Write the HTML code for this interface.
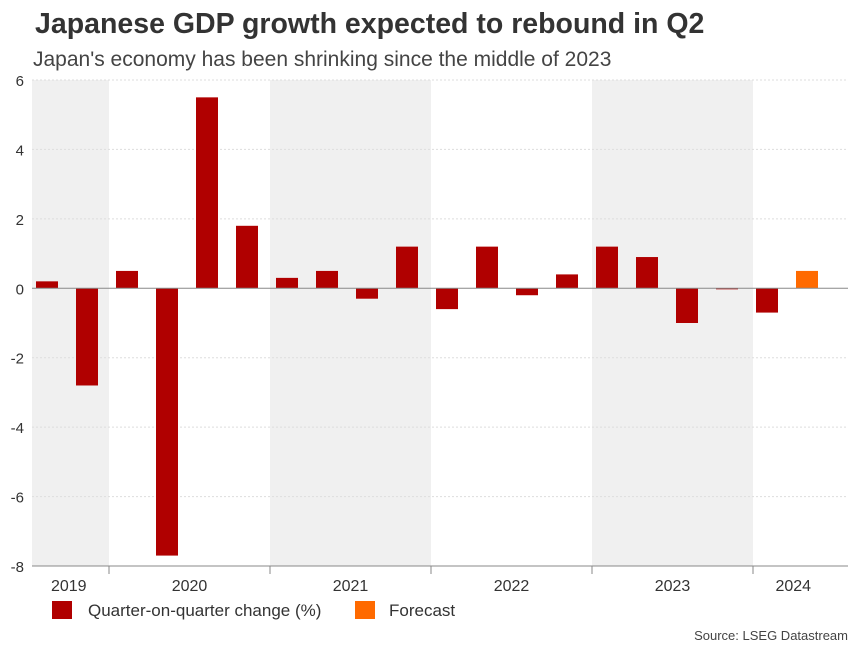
<!DOCTYPE html>
<html><head><meta charset="utf-8"><style>
body{margin:0;background:#fff;font-family:"Liberation Sans",Arial,sans-serif;}
svg text{font-family:"Liberation Sans",Arial,sans-serif;}
</style></head><body>
<svg width="860" height="645" xmlns="http://www.w3.org/2000/svg">
<text x="35" y="33" font-size="28.5" font-weight="bold" fill="#333">Japanese GDP growth expected to rebound in Q2</text>
<text x="33" y="66" font-size="21" fill="#444">Japan's economy has been shrinking since the middle of 2023</text>
<g id="bands"></g><g id="grid"></g><g id="bars"></g><g id="axes"></g>
<rect x="52" y="601" width="20" height="18" fill="#b00000"/>
<text x="88" y="616" font-size="17" fill="#333">Quarter-on-quarter change (%)</text>
<rect x="355" y="601" width="20" height="18" fill="#ff6a00"/>
<text x="389" y="616" font-size="17" fill="#333">Forecast</text>
<text x="848" y="640" font-size="13" fill="#444" text-anchor="end">Source: LSEG Datastream</text>
</svg>
<script>
const values=[0.2,-2.8,0.5,-7.7,5.5,1.8,0.3,0.5,-0.3,1.2,-0.6,1.2,-0.2,0.4,1.2,0.9,-1.0,-0.03,-0.7,0.5];
const isForecast=[0,0,0,0,0,0,0,0,0,0,0,0,0,0,0,0,0,0,0,1];
const years=["2019","2020","2021","2022","2023","2024"];
const yearQuarters=[2,4,4,4,4,2];
const yTicks=[6,4,2,0,-2,-4,-6,-8];
const NS="http://www.w3.org/2000/svg";
const x0=28.5,qw=40.25,plotL=32,plotR=848,yTop=80,yBot=566,vMax=6,vMin=-8;
const y=v=>yTop+(vMax-v)/(vMax-vMin)*(yBot-yTop);
const xq=i=>47+40*i;
function mk(t,a,p){const e=document.createElementNS(NS,t);for(const k in a)e.setAttribute(k,a[k]);p.appendChild(e);return e;}
const bands=document.getElementById('bands'),grid=document.getElementById('grid'),bars=document.getElementById('bars'),axes=document.getElementById('axes');
let q=0;
years.forEach((yr,i)=>{
  const xs=Math.max(plotL,x0+q*qw),xe=Math.min(plotR,x0+(q+yearQuarters[i])*qw);
  if(i%2===0){const r=mk('rect',{x:xs,y:yTop,width:xe-xs,height:yBot-yTop,fill:'#f0f0f0'},bands);
  
  }
  const t=mk('text',{x:(x0+q*qw+Math.min(plotR,x0+(q+yearQuarters[i])*qw))/2,y:591,'font-size':16,fill:'#333','text-anchor':'middle'},axes);
  t.textContent=yr;
  
  
  q+=yearQuarters[i];
  if(i<years.length-1){const tk=mk('line',{x1:x0+q*qw,x2:x0+q*qw,y1:yBot,y2:yBot+8,stroke:'#888'},axes);
  
  }
});
yTicks.forEach(v=>{
  if(v!==0&&v!==vMin){const g=mk('line',{x1:plotL,x2:plotR,y1:y(v),y2:y(v),stroke:'#ddd','stroke-dasharray':'2,2'},grid);
  
  }
  const t=mk('text',{x:24,y:y(v)+6,'font-size':15,fill:'#333','text-anchor':'end'},axes);
  t.textContent=v;
  
  
});
values.forEach((v,i)=>{
  const bw=22,top=Math.min(y(v),y(0)),h=Math.max(1,Math.abs(y(v)-y(0)));
  const b=mk('rect',{x:xq(i)-bw/2,y:top,width:bw,height:h,fill:isForecast[i]?'#ff6a00':'#b00000'},bars);
  
  
});
const z=mk('line',{x1:plotL,x2:plotR,y1:y(0),y2:y(0),stroke:'#888'},axes);


const xa=mk('line',{x1:plotL,x2:plotR,y1:yBot,y2:yBot,stroke:'#888'},axes);


</script>
</body></html>
